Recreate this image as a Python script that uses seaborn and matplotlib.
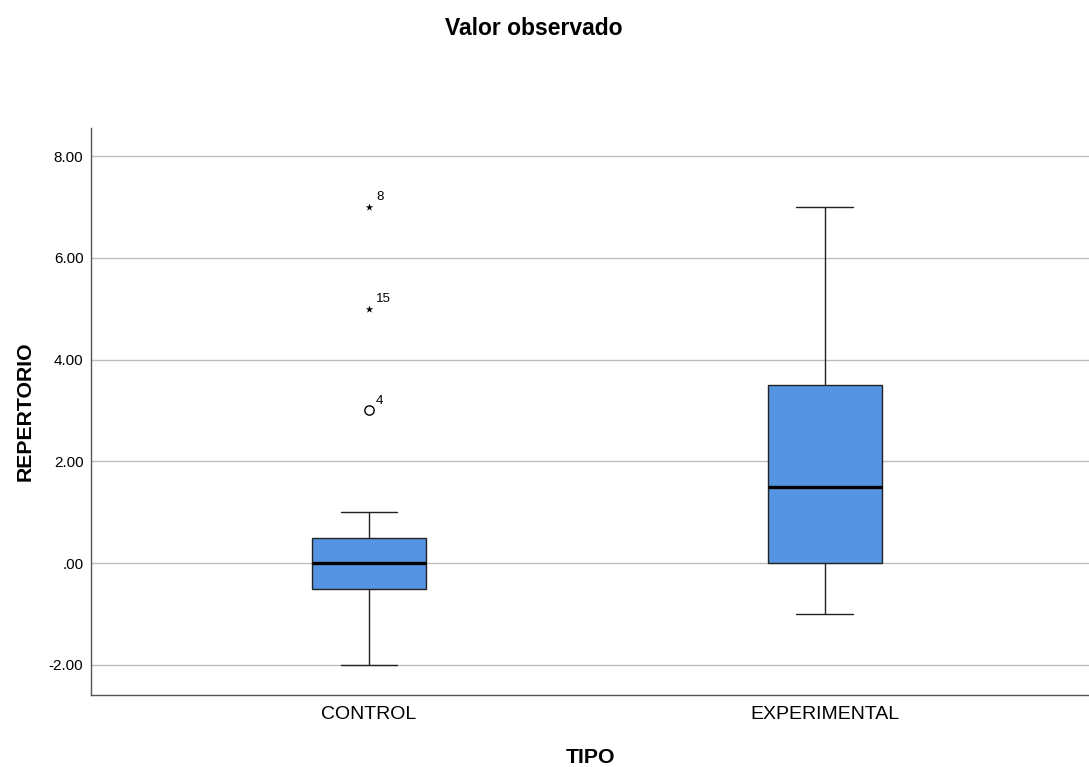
#!/usr/bin/env python3

import numpy as np
import pandas as pd
import seaborn as sns
import matplotlib.pyplot as plt
from matplotlib.ticker import FuncFormatter

# valores (SPSS)
categorias = ["CONTROL", "EXPERIMENTAL"]
control = [-2, -1, -1, -1, -0.5, -0.5, 0, 0, 0, 0, 0.5, 0.5, 0.5, 1, 3, 5, 7]
experimental = [-1, -1, 0, 0, 0, 1, 1, 1, 1.5, 2, 2, 3, 3.5, 4, 5, 6, 7]
# numero de caso de los atipicos del grupo control
casos_control = {3: "4", 5: "15", 7: "8"}
yticks = [-2, 0, 2, 4, 6, 8]

color_caja = "#5594e2"


def fmt(v, pos):
    s = f"{v:.2f}"
    if s.startswith("0."):
        s = s[1:]
    return s


def main():
    sns.set_style("white")
    plt.rcParams["font.family"] = ["Liberation Sans", "DejaVu Sans"]
    plt.rcParams["text.color"] = "black"
    plt.rcParams["axes.labelcolor"] = "black"
    plt.rcParams["xtick.color"] = "black"
    plt.rcParams["ytick.color"] = "black"

    df = pd.DataFrame({
        "TIPO": [categorias[0]] * len(control) + [categorias[1]] * len(experimental),
        "REPERTORIO": control + experimental,
    })

    fig = plt.figure(figsize=(10.89, 7.67), dpi=100)
    ax = fig.add_axes([0.0836, 0.094, 0.9164, 0.739])

    sns.boxplot(
        data=df, x="TIPO", y="REPERTORIO", order=categorias, ax=ax,
        color=color_caja, saturation=1, width=0.25, whis=1.5,
        showfliers=False, linecolor="black", linewidth=1,
        medianprops=dict(color="black", linewidth=2.4),
        whiskerprops=dict(color="#222222", linewidth=1),
        capprops=dict(color="#222222", linewidth=1),
        boxprops=dict(edgecolor="#222222"),
        zorder=3,
    )

    # atipicos: circulo (1.5-3 RIC) y estrella (>3 RIC)
    for i, datos in enumerate([control, experimental]):
        q1, q3 = np.percentile(datos, [25, 75])
        ric = q3 - q1
        for v in datos:
            if v > q3 + 1.5 * ric or v < q1 - 1.5 * ric:
                extremo = v > q3 + 3 * ric or v < q1 - 3 * ric
                if extremo:
                    ax.scatter([i], [v], marker="*", s=32, color="black",
                               linewidths=0, zorder=4)
                else:
                    ax.scatter([i], [v], marker="o", s=45, facecolor="white",
                               edgecolor="black", linewidths=1, zorder=4)
                if i == 0 and v in casos_control:
                    ax.annotate(casos_control[v], (i, v), xytext=(5, 5),
                                textcoords="offset points", fontsize=9.5)

    ax.set_xlim(-0.61, 1.58)
    ax.set_ylim(-2.59, 8.55)
    ax.set_yticks(yticks)
    ax.yaxis.set_major_formatter(FuncFormatter(fmt))
    ax.yaxis.grid(True, color="#bdbdbd", linewidth=1)
    ax.set_axisbelow(True)
    ax.tick_params(axis="y", length=0, pad=5.5, labelsize=11)
    ax.tick_params(axis="x", length=0, pad=8, labelsize=14)

    for s in ["top", "right"]:
        ax.spines[s].set_visible(False)
    for s in ["left", "bottom"]:
        ax.spines[s].set_color("#555555")
        ax.spines[s].set_linewidth(1)

    ax.set_xlabel("TIPO", fontsize=15.3, fontweight="bold", labelpad=18)
    ax.set_ylabel("REPERTORIO", fontsize=15.3, fontweight="bold", labelpad=10)
    fig.suptitle("Valor observado", fontsize=16.5, fontweight="bold",
                 x=0.49, y=0.978)

    fig.savefig("out.png", dpi=100)


if __name__ == "__main__":
    main()
